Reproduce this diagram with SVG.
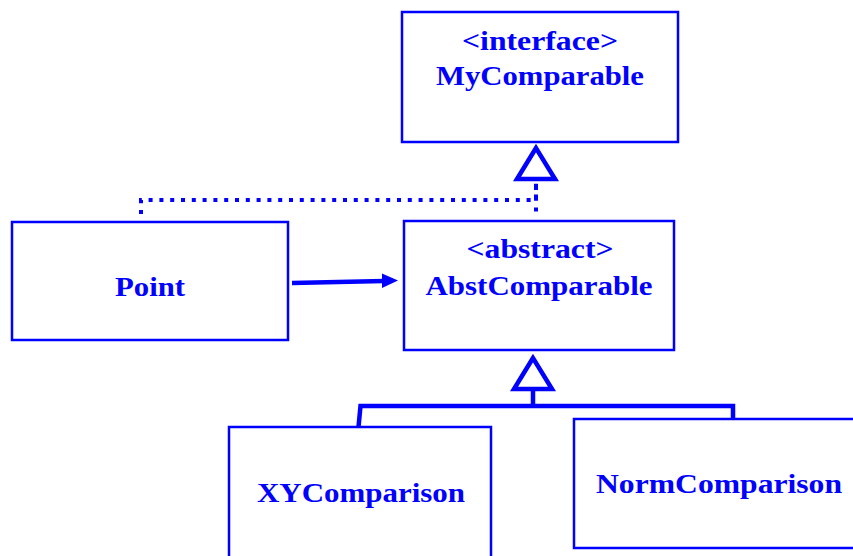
<svg xmlns="http://www.w3.org/2000/svg" width="853" height="556" viewBox="0 0 853 556">
<style>
.box{fill:#fff;stroke:#0000ff;stroke-width:2.5}
.t{font-family:"Liberation Serif","Times New Roman",serif;font-weight:bold;font-size:28px;fill:#0000ff;text-anchor:middle}
.ln{fill:none;stroke:#0000ff;stroke-width:4.5}
.dot{fill:none;stroke:#0000ff;stroke-width:4;stroke-dasharray:4 6.8}
.tri{fill:#fff;stroke:#0000ff;stroke-width:4.5;stroke-linejoin:miter}
</style>
<rect width="853" height="556" fill="#fff"/>
<g id="MyComparable">
<rect class="box" x="402" y="12" width="276" height="130"/>
<text class="t" x="540" y="50" textLength="156" lengthAdjust="spacingAndGlyphs">&lt;interface&gt;</text>
<text class="t" x="540" y="85" textLength="208" lengthAdjust="spacingAndGlyphs">MyComparable</text>
</g>
<g id="AbstComparable">
<rect class="box" x="404" y="221" width="270" height="129"/>
<text class="t" x="540" y="258" textLength="147" lengthAdjust="spacingAndGlyphs">&lt;abstract&gt;</text>
<text class="t" x="539" y="295" textLength="227" lengthAdjust="spacingAndGlyphs">AbstComparable</text>
</g>
<g id="Point">
<rect class="box" x="12" y="222" width="276" height="118"/>
<text class="t" x="150" y="296" textLength="70" lengthAdjust="spacingAndGlyphs">Point</text>
</g>
<g id="XYComparison">
<rect class="box" x="229" y="427" width="262" height="140"/>
<text class="t" x="361" y="502" textLength="208" lengthAdjust="spacingAndGlyphs">XYComparison</text>
</g>
<g id="NormComparison">
<rect class="box" x="574" y="419" width="290" height="129"/>
<text class="t" x="719" y="493" textLength="246" lengthAdjust="spacingAndGlyphs">NormComparison</text>
</g>
<g id="connectors">
<path class="dot" d="M141 214 V200 H536 V182"/>
<path class="dot" d="M536 186 V218"/>
<polygon class="tri" points="536,148 517,179 555,179"/>
<path class="ln" d="M292 283 L384 281"/>
<polygon fill="#0000ff" points="382,273.5 398,280.5 382,288"/>
<polygon class="tri" points="533,358 514,389 552,389"/>
<path class="ln" stroke-width="5" d="M533 391 V406"/>
<path class="ln" stroke-width="5" d="M358.5 427 L360.5 406 H733 V419"/>
</g>
</svg>
